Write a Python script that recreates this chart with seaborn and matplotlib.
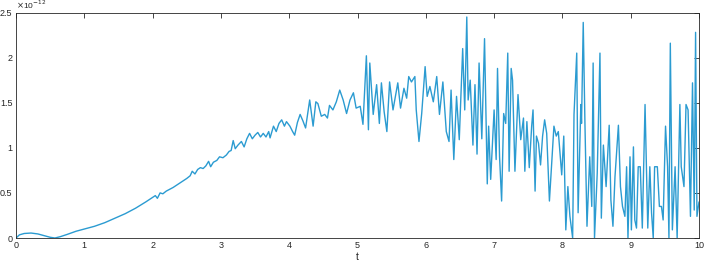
import matplotlib
matplotlib.use("Agg")
import matplotlib.pyplot as plt
import seaborn as sns
import pandas as pd
from matplotlib.ticker import FuncFormatter

# time samples (s) and signal values (units of 1e-12)
t_vals = [
    0.00, 0.05, 0.12, 0.22, 0.32, 0.42, 0.50, 0.57, 0.65, 0.75, 0.88, 1.00, 1.15, 1.30,
    1.45, 1.60, 1.75, 1.90, 2.00, 2.04, 2.07, 2.11, 2.15, 2.20, 2.30, 2.40, 2.50, 2.55,
    2.58, 2.62, 2.66, 2.70, 2.74, 2.78, 2.82, 2.85, 2.89, 2.94, 2.98, 3.03, 3.08, 3.12,
    3.15, 3.18, 3.21, 3.25, 3.30, 3.34, 3.38, 3.42, 3.46, 3.50, 3.54, 3.58, 3.62, 3.66,
    3.70, 3.72, 3.77, 3.81, 3.85, 3.89, 3.93, 3.96, 4.01, 4.05, 4.08, 4.12, 4.16, 4.20,
    4.24, 4.30, 4.35, 4.39, 4.42, 4.47, 4.52, 4.56, 4.59, 4.64, 4.69, 4.74, 4.79, 4.84,
    4.89, 4.94, 4.98, 5.04, 5.08, 5.13, 5.16, 5.18, 5.23, 5.28, 5.32, 5.35, 5.39, 5.43,
    5.47, 5.52, 5.59, 5.63, 5.68, 5.72, 5.75, 5.79, 5.84, 5.86, 5.90, 5.94, 5.99, 6.02,
    6.06, 6.11, 6.16, 6.20, 6.25, 6.30, 6.34, 6.37, 6.41, 6.45, 6.49, 6.54, 6.57, 6.60,
    6.62, 6.65, 6.69, 6.72, 6.75, 6.78, 6.82, 6.86, 6.90, 6.92, 6.95, 7.00, 7.03, 7.05,
    7.08, 7.11, 7.14, 7.17, 7.20, 7.22, 7.25, 7.27, 7.305, 7.35, 7.39, 7.43, 7.45, 7.48,
    7.515, 7.55, 7.57, 7.60, 7.62, 7.65, 7.68, 7.71, 7.74, 7.77, 7.81, 7.84, 7.876, 7.91,
    7.94, 7.99, 8.02, 8.05, 8.08, 8.11, 8.15, 8.17, 8.21, 8.23, 8.27, 8.28, 8.305, 8.33,
    8.36, 8.40, 8.43, 8.45, 8.47, 8.51, 8.55, 8.57, 8.60, 8.64, 8.685, 8.71, 8.74, 8.77,
    8.82, 8.85, 8.88, 8.915, 8.94, 8.96, 8.99, 9.01, 9.04, 9.06, 9.085, 9.11, 9.14, 9.17,
    9.21, 9.25, 9.28, 9.305, 9.33, 9.35, 9.39, 9.42, 9.45, 9.475, 9.51, 9.54, 9.56, 9.58,
    9.61, 9.65, 9.68, 9.72, 9.74, 9.78, 9.81, 9.84, 9.875, 9.905, 9.93, 9.95, 9.97, 10.0,
]
y_vals = [
    0.00, 0.035, 0.05, 0.055, 0.045, 0.025, 0.008, 0.00, 0.015, 0.04, 0.075, 0.10, 0.13, 0.17,
    0.22, 0.27, 0.33, 0.40, 0.45, 0.47, 0.44, 0.50, 0.49, 0.52, 0.56, 0.61, 0.66, 0.69,
    0.74, 0.71, 0.76, 0.78, 0.77, 0.80, 0.85, 0.79, 0.84, 0.86, 0.90, 0.89, 0.92, 0.96,
    0.97, 1.08, 0.99, 1.03, 1.07, 1.01, 1.10, 1.16, 1.10, 1.14, 1.17, 1.12, 1.16, 1.12,
    1.18, 1.11, 1.24, 1.18, 1.27, 1.31, 1.24, 1.29, 1.24, 1.18, 1.14, 1.28, 1.37, 1.30,
    1.22, 1.53, 1.24, 1.51, 1.49, 1.35, 1.37, 1.33, 1.47, 1.42, 1.51, 1.64, 1.53, 1.38,
    1.53, 1.61, 1.44, 1.46, 1.26, 2.02, 1.20, 1.94, 1.37, 1.70, 1.27, 1.72, 1.40, 1.18,
    1.73, 1.42, 1.72, 1.44, 1.66, 1.55, 1.79, 1.73, 1.79, 1.42, 1.07, 1.38, 1.90, 1.57,
    1.68, 1.51, 1.79, 1.37, 1.73, 1.18, 1.07, 1.64, 0.87, 1.57, 1.09, 2.10, 1.42, 2.45,
    1.53, 1.75, 1.03, 1.70, 0.93, 1.94, 1.10, 2.21, 0.60, 1.24, 0.65, 1.42, 0.87, 1.88,
    0.90, 0.41, 1.38, 1.27, 2.05, 0.74, 1.88, 1.75, 0.74, 1.59, 1.09, 1.33, 0.74, 1.29,
    0.78, 1.24, 1.42, 0.52, 1.13, 1.05, 0.81, 1.13, 1.31, 1.16, 0.41, 0.78, 1.24, 1.13,
    1.18, 0.70, 1.13, 0.09, 0.57, 0.24, 0.00, 1.37, 2.05, 0.28, 1.48, 1.27, 2.39, 1.27,
    0.13, 0.90, 0.35, 1.94, 0.00, 0.72, 2.05, 0.22, 1.03, 0.57, 1.25, 0.42, 0.13, 0.68,
    1.25, 0.57, 0.35, 0.24, 0.79, 0.00, 0.90, 0.09, 1.01, 0.20, 0.11, 0.79, 0.79, 0.11,
    1.48, 0.11, 0.79, 0.28, 0.00, 0.79, 0.79, 0.35, 0.35, 0.20, 1.24, 0.79, 0.00, 2.16,
    0.09, 0.79, 0.00, 1.48, 0.79, 0.57, 1.48, 1.42, 0.24, 1.72, 0.31, 2.28, 0.24, 0.40,
]

x_ticks = [0, 1, 2, 3, 4, 5, 6, 7, 8, 9, 10]
y_ticks = [0, 0.5, 1, 1.5, 2, 2.5]

df = pd.DataFrame({"t": t_vals, "y": y_vals})

sns.set_style("white")
plt.rcParams["font.family"] = ["Liberation Sans", "DejaVu Sans"]

fig = plt.figure(figsize=(7.07, 2.66), dpi=100)
ax = fig.add_axes([16 / 707, 28 / 266, 683 / 707, 225.5 / 266])

sns.lineplot(data=df, x="t", y="y", ax=ax, color="#2b9bd1", linewidth=1.0,
             sort=False, estimator=None)

ax.set_xlim(0, 10)
ax.set_ylim(0, 2.5)
ax.set_xticks(x_ticks)
ax.set_yticks(y_ticks)
ax.yaxis.set_major_formatter(FuncFormatter(lambda v, p: f"{v:g}"))
ax.xaxis.set_major_formatter(FuncFormatter(lambda v, p: f"{v:g}"))

ax.tick_params(axis="both", which="both", direction="in", length=3.5, width=0.6,
               colors="#262626", labelsize=6.5, top=True, right=True, pad=2.5)
for s in ax.spines.values():
    s.set_visible(True)
    s.set_color("#262626")
    s.set_linewidth(0.6)

ax.set_xlabel("t", fontsize=7.5, color="#262626", labelpad=1)
ax.set_ylabel("")
ax.text(0.0, 1.005, r"$\times$10$^{-12}$", transform=ax.transAxes, fontsize=6,
        color="#262626", ha="left", va="bottom")

fig.savefig("out.png", dpi=100)
